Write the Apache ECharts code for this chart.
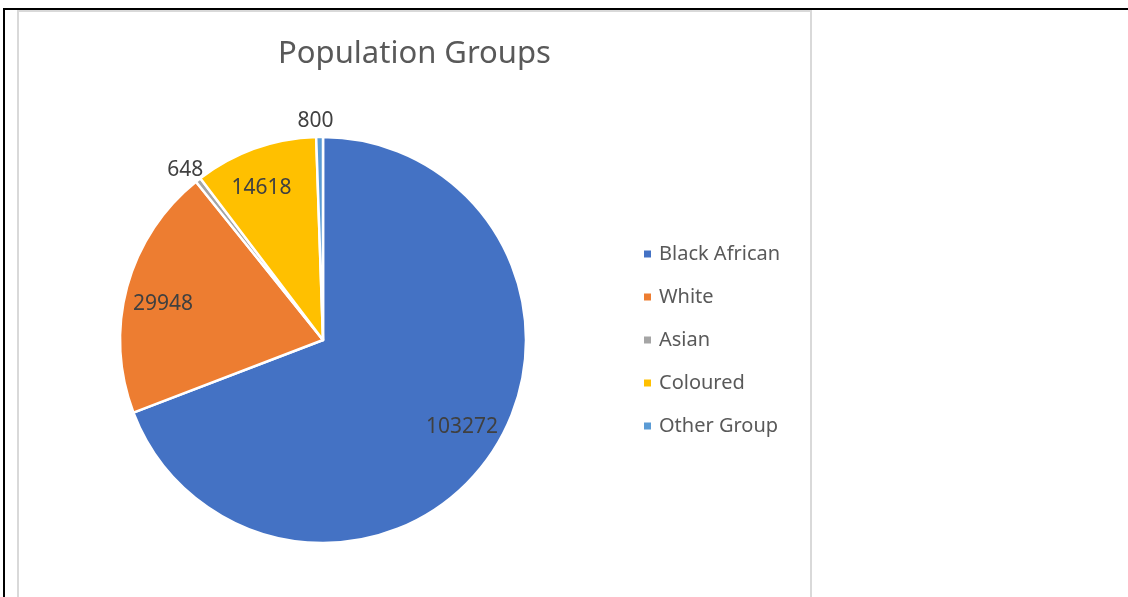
<!DOCTYPE html>
<html>
<head>
<meta charset="utf-8">
<script src="https://cdn.jsdelivr.net/npm/echarts@6/dist/echarts.min.js"></script>
<style>
  html, body { margin: 0; padding: 0; width: 1128px; height: 597px; overflow: hidden; background: #fff; }
  #frameTop { position: absolute; left: 3px; top: 8px; width: 1125px; height: 2px; background: #000; }
  #frameLeft { position: absolute; left: 3px; top: 8px; width: 2px; height: 600px; background: #000; }
  #box { position: absolute; left: 17px; top: 10px; width: 791px; height: 600px; border: 2px solid #d9d9d9; border-bottom: none; background: #fff; }
  #chart { position: absolute; left: 19px; top: 12px; width: 791px; height: 585px; }
</style>
</head>
<body>
<div id="frameTop"></div>
<div id="frameLeft"></div>
<div id="box"></div>
<div id="chart"></div>
<script>
const categories = ['Black African', 'White', 'Asian', 'Coloured', 'Other Group'];
const values = [103272, 29948, 648, 14618, 800];
const colors = ['#4472C4', '#ED7D31', '#A5A5A5', '#FFC000', '#5B9BD5'];
const titleText = 'Population Groups';

const total = values.reduce((a, b) => a + b, 0);
const isBig = v => v / total > 0.05;

const FONT = '"Noto Sans", "Open Sans", sans-serif';
const center = [304, 328];
const R = 203;

const mainData = categories.map((c, i) => ({ name: c, value: values[i], itemStyle: { color: colors[i] } }));
const innerLabelData = categories.map((c, i) => ({ name: c, value: values[i], label: { show: isBig(values[i]) } }));
const outerLabelData = categories.map((c, i) => ({ name: c, value: values[i], label: { show: !isBig(values[i]) } }));

const labelStyle = { color: '#404040', fontSize: 21, fontFamily: FONT, formatter: '{c}' };

const chart = echarts.init(document.getElementById('chart'), null, { renderer: 'canvas' });
chart.setOption({
  animation: false,
  title: {
    text: titleText,
    left: 'center',
    top: 27,
    padding: 0,
    textStyle: { color: '#595959', fontSize: 31, fontWeight: 'normal', fontFamily: FONT }
  },
  legend: {
    orient: 'vertical',
    left: 618,
    top: 226,
    itemWidth: 9,
    itemHeight: 9,
    itemGap: 21,
    icon: 'rect',
    textStyle: { color: '#595959', fontSize: 20, fontFamily: FONT, lineHeight: 22, padding: [0, 0, 0, 2] },
    data: categories.map((c, i) => ({ name: c, itemStyle: { color: colors[i] } }))
  },
  series: [
    {
      type: 'pie',
      center: center,
      radius: [0, R],
      startAngle: 90,
      clockwise: true,
      label: { show: false },
      labelLine: { show: false },
      itemStyle: { borderColor: '#ffffff', borderWidth: 2.5 },
      emphasis: { disabled: true },
      data: mainData
    },
    {
      type: 'pie',
      center: center,
      radius: [0, 2 * 161],
      startAngle: 92.5,
      clockwise: true,
      silent: true,
      z: 5,
      itemStyle: { color: 'transparent', borderWidth: 0 },
      label: Object.assign({ position: 'inside' }, labelStyle),
      labelLine: { show: false },
      emphasis: { disabled: true },
      data: innerLabelData
    },
    {
      type: 'pie',
      center: center,
      radius: [0, 2 * 216],
      startAngle: 91,
      clockwise: true,
      silent: true,
      z: 5,
      itemStyle: { color: 'transparent', borderWidth: 0 },
      label: Object.assign({ position: 'inside' }, labelStyle),
      labelLine: { show: false },
      emphasis: { disabled: true },
      data: outerLabelData
    }
  ]
});
</script>
</body>
</html>
